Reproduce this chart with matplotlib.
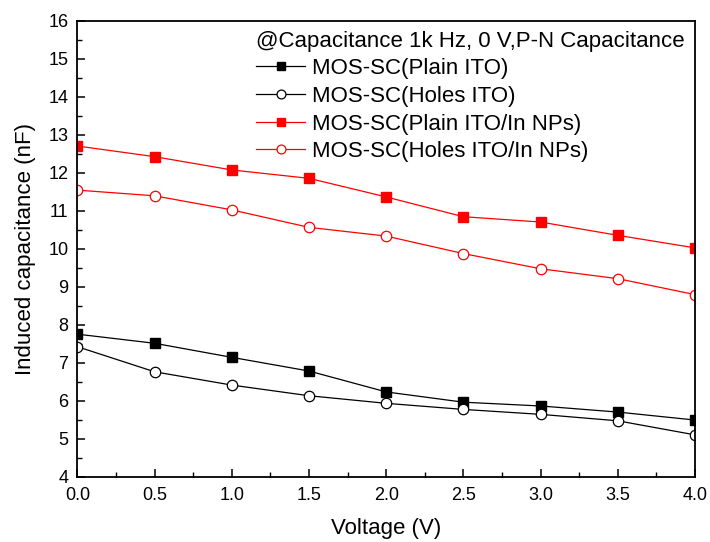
import matplotlib
matplotlib.use("Agg")
import matplotlib.pyplot as plt
import numpy as np

plt.rcParams['font.family'] = ['Liberation Sans', 'DejaVu Sans']

# bias voltage (V)
voltage = [0.0, 0.5, 1.0, 1.5, 2.0, 2.5, 3.0, 3.5, 4.0]

# induced capacitance (nF)
plain_ito = [7.75, 7.51, 7.14, 6.78, 6.23, 5.96, 5.86, 5.70, 5.49]
holes_ito = [7.42, 6.76, 6.41, 6.13, 5.93, 5.77, 5.64, 5.47, 5.10]
plain_ito_np = [12.70, 12.42, 12.07, 11.85, 11.36, 10.84, 10.70, 10.35, 10.02]
holes_ito_np = [11.54, 11.39, 11.02, 10.56, 10.33, 9.87, 9.47, 9.21, 8.79]

labels = ['MOS-SC(Plain ITO)', 'MOS-SC(Holes ITO)',
          'MOS-SC(Plain ITO/In NPs)', 'MOS-SC(Holes ITO/In NPs)']
legend_title = '@Capacitance 1k Hz, 0 V,P-N Capacitance'

fig = plt.figure(figsize=(7.1, 5.42), dpi=100)
ax = fig.add_axes([0.109, 0.1205, 0.870, 0.8415])

ms = 7.5
ax.plot(voltage, plain_ito, '-s', color='black', lw=0.9, ms=ms,
        mfc='black', mec='black', label=labels[0])
ax.plot(voltage, holes_ito, '-o', color='black', lw=0.9, ms=ms,
        mfc='white', mec='black', mew=0.9, label=labels[1])
ax.plot(voltage, plain_ito_np, '-s', color='red', lw=0.9, ms=ms,
        mfc='red', mec='red', label=labels[2])
ax.plot(voltage, holes_ito_np, '-o', color='red', lw=0.9, ms=ms,
        mfc='white', mec='red', mew=0.9, label=labels[3])

ax.set_xlim(0, 4)
ax.set_ylim(4, 16)
ax.set_xticks(np.arange(0, 4.01, 0.5))
ax.set_xticks(np.arange(0.25, 4, 0.5), minor=True)
ax.set_yticks(np.arange(4, 16.1, 1))
ax.set_yticks(np.arange(4.5, 16, 1), minor=True)
ax.set_xticklabels([f'{v:.1f}' for v in np.arange(0, 4.01, 0.5)])

ax.tick_params(which='both', direction='in', top=False, right=False,
               labelsize=13)
ax.tick_params(axis='x', pad=7.5)
ax.tick_params(axis='y', pad=6.5)
ax.tick_params(which='major', length=6, width=1.1)
ax.tick_params(which='minor', length=3.5, width=1.0)
for s in ax.spines.values():
    s.set_linewidth(1.3)

ax.set_xlabel('Voltage (V)', fontsize=16, labelpad=10)
ax.set_ylabel('Induced capacitance (nF)', fontsize=16, labelpad=9)

leg = ax.legend(title=legend_title, loc='upper right', frameon=False,
                fontsize=16, title_fontsize=16, handlelength=2.2,
                labelspacing=0.3, handletextpad=0.3, markerscale=0.85,
                borderaxespad=0.15, borderpad=0.3, alignment='left')

fig.savefig('out.png', dpi=100)
